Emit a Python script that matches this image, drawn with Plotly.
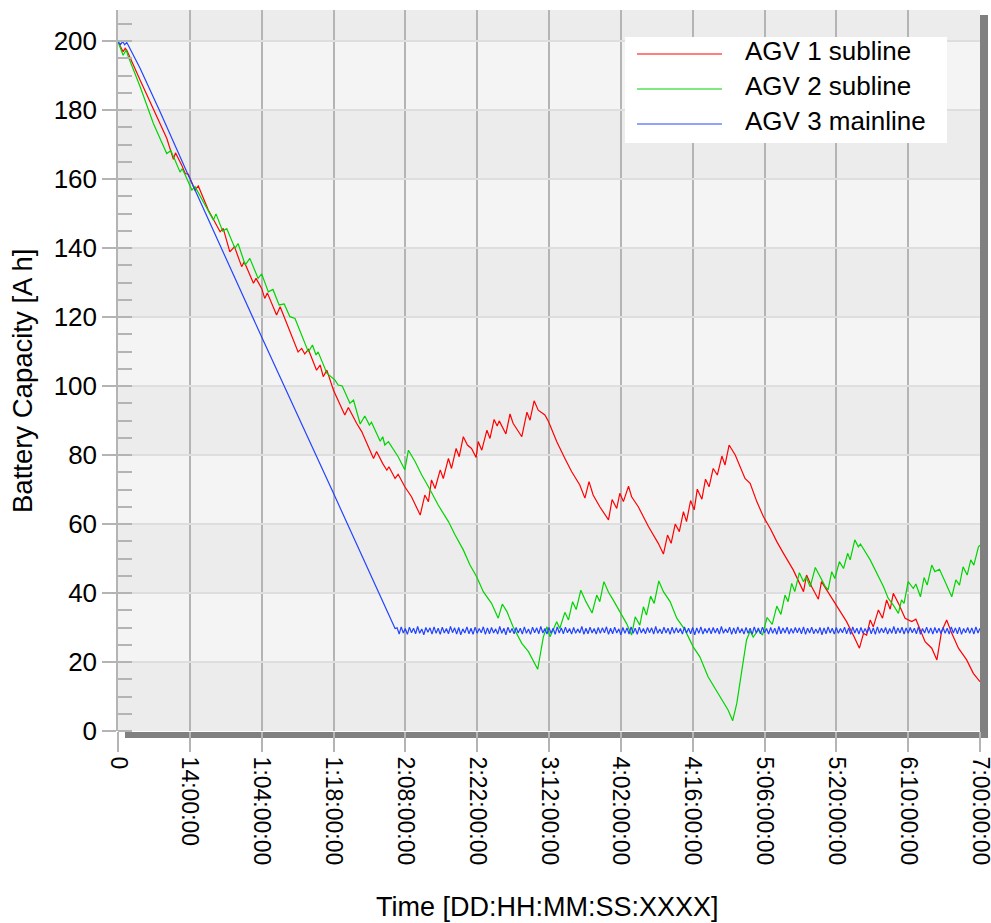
import plotly.graph_objects as go

# ---------------- data (hours since start, battery capacity in A h) ----------------
series_names = ["AGV 1 subline", "AGV 2 subline", "AGV 3 mainline"]
series_colors = ["#ff0000", "#00d400", "#2244ff"]

x_tick_hours = [0, 14, 28, 42, 56, 70, 84, 98, 112, 126, 140, 154, 168]
x_tick_labels = ["0", "14:00:00", "1:04:00:00", "1:18:00:00", "2:08:00:00", "2:22:00:00",
                 "3:12:00:00", "4:02:00:00", "4:16:00:00", "5:06:00:00", "5:20:00:00",
                 "6:10:00:00", "7:00:00:00"]
y_tick_values = [0, 20, 40, 60, 80, 100, 120, 140, 160, 180, 200]

agv1_t = [0.0, 0.5, 1.0, 1.4, 1.7, 4.3, 6.9, 9.5, 10.8, 11.2, 12.4, 13.1, 13.7, 15.0, 15.65,
          17.6, 19.9, 20.5, 21.8, 22.7, 24.1, 24.6, 26.4, 26.9, 28.0, 28.6, 29.1, 30.9, 31.6,
          33.2, 35.1, 35.8, 36.4, 37.1, 38.7, 39.4, 40.0, 40.7, 42.0, 44.2, 44.9, 46.5, 47.5,
          49.8, 50.4, 51.6, 52.4, 52.8, 54.0, 54.6, 55.9, 57.2, 58.9, 59.8, 60.5, 61.1, 61.8,
          62.8, 63.4, 64.4, 65.0, 65.9, 66.5, 67.3, 68.1, 68.9, 69.8, 70.2, 70.9, 71.9, 72.5,
          73.3, 73.9, 74.3, 75.6, 76.4, 77.0, 78.7, 79.7, 80.3, 81.1, 81.9, 83.2, 83.9, 85.5,
          87.1, 88.4, 90.0, 91.0, 91.8, 92.6, 93.9, 95.6, 96.3, 97.2, 97.8, 98.5, 99.5, 100.1,
          101.4, 103.4, 105.3, 106.3, 107.1, 107.8, 108.6, 109.4, 110.2, 110.8, 111.6, 112.3,
          112.9, 113.8, 114.5, 115.2, 116.0, 116.8, 117.7, 118.3, 119.1, 120.3, 122.2, 123.2,
          124.5, 125.8, 127.2, 128.4, 129.7, 131.0, 131.6, 133.6, 134.2, 135.2, 136.5, 137.1,
          138.1, 140.4, 142.0, 143.6, 144.5, 145.3, 145.9, 146.6, 147.2, 148.2, 149.0, 149.8,
          150.5, 151.1, 152.1, 153.4, 154.7, 155.5, 156.3, 157.3, 158.6, 159.6, 160.5, 161.5,
          162.5, 163.8, 165.4, 166.7, 168.0]
agv1_v = [199.8, 198.4, 196.9, 197.9, 197.4, 188.7, 180.0, 171.8, 165.7, 167.6, 164.1, 161.6, 161.4, 156.8, 158.0,
          151.0, 144.7, 145.7, 138.9, 140.4, 134.6, 136.0, 129.8, 131.2, 128.3, 125.4, 127.0, 120.6, 123.0,
          117.2, 109.9, 110.9, 109.3, 110.6, 104.6, 106.1, 102.7, 104.6, 98.8, 91.6, 93.8, 89.2, 86.8,
          79.0, 81.0, 77.5, 75.6, 76.6, 73.2, 74.4, 70.8, 67.9, 62.6, 68.4, 66.5, 72.8, 70.3,
          75.7, 73.2, 79.0, 76.1, 81.9, 79.5, 85.3, 82.9, 81.9, 79.3, 83.9, 81.4, 87.2, 84.8,
          90.3, 88.4, 89.9, 86.1, 91.9, 89.2, 85.3, 92.4, 90.1, 95.7, 93.0, 91.6, 89.7, 83.9,
          79.0, 75.2, 71.3, 67.5, 72.3, 68.4, 65.0, 61.2, 67.1, 64.5, 68.9, 66.5, 71.0, 67.9,
          65.0, 59.2, 54.4, 51.3, 56.8, 54.4, 60.0, 57.8, 63.6, 60.7, 66.8, 64.1,
          70.1, 67.2, 73.0, 70.8, 76.1, 74.2, 79.7, 77.1, 82.9, 80.0, 73.2, 71.8,
          66.5, 62.1, 58.5, 54.9, 51.5, 48.1, 46.7, 40.4, 45.2, 41.8, 38.2, 43.3,
          40.9, 35.6, 31.7, 26.9, 24.0, 28.3, 27.8, 32.2, 30.2, 35.1, 32.7, 38.0,
          35.3, 39.9, 37.0, 32.7, 31.7, 32.4, 29.3, 25.9, 24.0, 20.6, 28.8, 32.2,
          28.3, 24.0, 20.6, 16.7, 14.3]

agv2_t = [0.0, 1.0, 1.6, 2.0, 4.3, 6.9, 9.5, 10.3, 11.1, 12.1, 12.5, 13.1, 14.4, 15.0, 17.0,
          18.6, 19.1, 20.4, 21.2, 22.8, 23.4, 24.8, 25.7, 27.3, 28.0, 29.3, 30.2, 31.4, 32.4,
          33.5, 34.5, 35.8, 37.1, 37.9, 38.6, 39.0, 40.7, 42.3, 42.9, 43.7, 45.2, 45.9, 47.2,
          48.1, 49.0, 49.4, 51.1, 51.6, 52.0, 52.7, 53.7, 54.6, 55.9, 56.6, 57.9, 59.2, 60.8,
          62.4, 64.4, 65.7, 67.3, 68.6, 69.9, 71.2, 72.8, 74.1, 74.9, 75.8, 77.0, 78.7, 80.0,
          80.9, 81.8, 82.9, 83.6, 84.2, 85.5, 86.1, 87.1, 87.8, 88.6, 89.3, 90.2, 91.2, 92.4,
          93.3, 93.9, 94.7, 95.6, 96.5, 97.8, 99.1, 100.1, 100.8, 101.7, 102.4, 103.0, 103.8,
          104.5, 105.4, 106.3, 107.6, 108.9, 110.5, 112.1, 113.4, 115.0, 116.7, 118.0, 118.9,
          119.8, 120.6, 121.6, 122.5, 123.2, 123.8, 124.8, 125.6, 126.5, 127.5, 128.4, 129.2,
          130.0, 130.6, 131.3, 131.9, 132.8, 133.6, 134.1, 134.9, 135.9, 136.8, 137.8, 138.4,
          139.1, 139.7, 140.6, 141.4, 142.2, 142.7, 143.6, 144.3, 144.7, 146.6, 147.9, 149.2,
          150.1, 151.1, 152.1, 152.7, 153.2, 154.0, 155.0, 155.5, 156.4, 157.1, 157.7, 158.6,
          159.2, 160.1, 161.2, 162.5, 163.3, 164.0, 164.7, 165.5, 166.2, 166.8, 167.7, 168.0]
agv2_v = [199.8, 195.9, 197.4, 195.5, 186.8, 176.1, 167.4, 168.2, 165.5, 162.0, 163.0, 161.2, 156.8, 157.8, 152.4,
          148.1, 149.9, 144.9, 145.6, 139.9, 141.3, 135.1, 137.0, 131.2, 132.5, 127.3, 128.0, 123.5, 123.8,
          120.1, 119.6, 114.8, 109.9, 111.9, 109.0, 109.9, 103.7, 101.7, 100.3, 100.0, 95.0, 95.9, 89.0,
          91.3, 88.7, 89.5, 84.0, 85.3, 82.9, 83.9, 81.4, 79.5, 75.7, 81.4, 78.1, 74.2, 70.0,
          65.5, 60.7, 56.8, 52.5, 48.1, 44.7, 40.4, 37.0, 32.7, 36.8, 34.6, 30.2, 25.4, 23.0,
          20.6, 17.9, 27.3, 30.2, 27.3, 31.7, 29.7, 34.4, 32.2, 37.5, 35.2, 40.8, 37.5, 34.2,
          39.4, 37.5, 43.3, 40.2, 38.0, 34.6, 31.2, 27.8, 33.1, 30.7, 36.0, 33.6, 39.1,
          37.0, 43.5, 40.4, 37.5, 32.7, 29.3, 24.4, 21.5, 15.7, 11.4, 8.0, 6.1,
          3.0, 8.0, 17.7, 26.4, 29.0, 27.2, 29.3, 27.8, 32.9, 30.9, 36.2, 33.8,
          39.4, 37.5, 42.8, 40.4, 45.9, 43.3, 44.7, 41.8, 47.4, 44.7, 42.0, 40.9,
          46.2, 44.2, 49.1, 47.1, 51.5, 49.6, 55.4, 53.4, 54.2, 49.6, 45.7, 41.8,
          38.5, 36.5, 34.1, 38.0, 37.0, 43.3, 41.3, 42.6, 38.9, 44.5, 42.3, 48.1,
          46.2, 46.9, 43.3, 38.9, 43.8, 42.3, 47.6, 45.2, 49.6, 48.1, 53.4, 53.9]

# AGV 3: ramp down, then a plateau sampled every 0.4 h starting at 54.4 h
agv3_ramp_t = [0.0, 0.5, 0.9, 1.3, 1.7, 2.0, 4.3, 8.2, 13.4, 28.0, 42.0, 51.1, 54.0]
agv3_ramp_v = [199.8, 199.0, 199.9, 198.9, 199.6, 198.8, 192.1, 179.5, 162.1, 114.2, 68.9, 39.4, 29.7]
agv3_plateau_start = 54.4
agv3_plateau_step = 0.4
agv3_plateau_v = [
    29.9, 28.1, 30.2, 28.4, 29.7, 28.0, 30.1, 28.5, 29.8, 28.2, 30.3, 28.3, 29.6, 27.9, 30.0, 28.6, 29.9, 28.1, 30.2,
    28.3, 29.8, 28.0, 30.1, 28.4, 29.7, 28.2, 30.3, 28.5, 29.9, 28.1, 30.0, 27.9, 29.6, 28.4, 30.2, 28.2, 29.8, 28.0,
    30.1, 28.3, 29.7, 28.5, 30.2, 28.0, 29.9, 28.2, 30.0, 28.4, 29.6, 28.1, 30.3, 28.3, 29.8, 27.9, 30.1, 28.5, 29.7,
    28.2, 30.0, 28.4, 29.8, 28.1, 30.2, 28.3, 29.6, 28.0, 30.1, 28.5, 29.9, 28.2, 30.3, 28.4, 29.7, 28.1, 30.0, 28.3,
    29.8, 28.0, 30.2, 28.4, 29.9, 28.2, 30.1, 28.5, 29.7, 28.1, 30.0, 28.3, 29.6, 28.4, 30.3, 28.0, 29.8, 28.2, 30.1,
    28.4, 29.7, 28.1, 30.0, 28.3, 29.9, 28.5, 30.2, 28.0, 29.8, 28.2, 30.1, 28.4, 29.6, 27.9, 30.0, 28.3, 29.9, 28.1,
    30.2, 28.3, 29.8, 28.0, 30.1, 28.4, 29.7, 28.2, 30.0, 28.5, 29.9, 28.1, 30.3, 28.3, 29.6, 28.2, 30.1, 28.4, 29.8,
    28.0, 30.1, 28.3, 29.9, 28.5, 29.7, 28.1, 30.2, 28.4, 29.8, 28.2, 30.0, 27.9, 29.9, 28.3, 30.2, 28.1, 29.7, 28.4,
    29.9, 28.2, 30.0, 28.4, 29.8, 28.1, 30.3, 28.3, 29.6, 28.5, 30.1, 28.0, 29.9, 28.2, 30.2, 28.4, 29.7, 28.1, 30.0,
    28.3, 29.8, 28.0, 30.2, 28.4, 29.9, 28.2, 30.1, 28.5, 29.7, 28.1, 30.0, 28.3, 29.8, 28.0, 30.3, 28.2, 29.9, 28.4,
    30.1, 28.1, 29.7, 28.3, 30.0, 28.5, 29.9, 28.2, 30.2, 28.0, 29.8, 28.4, 30.1, 28.2, 29.6, 28.3, 30.0, 27.9, 29.9,
    28.2, 30.2, 28.4, 29.8, 28.1, 30.0, 28.3, 29.7, 28.5, 30.1, 28.2, 29.9, 28.0, 30.2, 28.4, 29.8, 28.1, 30.0, 28.3,
    29.7, 28.4, 30.1, 28.2, 29.9, 28.0, 30.2, 28.3, 29.8, 28.5, 30.0, 28.1, 29.7, 28.3, 30.3, 28.2, 29.9, 28.4, 30.1,
    28.1, 29.9, 28.3, 30.0, 28.5, 29.8, 28.2, 30.2, 28.0, 29.7, 28.4, 30.1, 28.3, 29.9, 28.1, 30.0, 28.4, 29.8, 28.2,
    30.0, 28.3, 29.8, 28.1, 30.2, 28.4, 29.9, 28.2, 30.1, 28.0, 29.7, 28.5, 30.0, 28.3, 29.9, 28.1, 30.2, 28.4, 29.8,
]
agv3_plateau_t = [agv3_plateau_start + i * agv3_plateau_step for i in range(len(agv3_plateau_v))]
agv3_t = agv3_ramp_t + agv3_plateau_t
agv3_v = agv3_ramp_v + agv3_plateau_v

# ---------------- figure ----------------
FONT = "Liberation Sans, Arial, sans-serif"
GRID = "#b4b4b4"

fig = go.Figure()
for t, v, name, col in zip([agv1_t, agv2_t, agv3_t], [agv1_v, agv2_v, agv3_v], series_names, series_colors):
    fig.add_trace(go.Scatter(x=t, y=v, mode="lines", name=name,
                             line=dict(color=col, width=1.2), showlegend=False,
                             hoverinfo="skip"))

shapes = []
# alternating horizontal bands
for lo in [20, 60, 100, 140, 180]:
    shapes.append(dict(type="rect", xref="paper", yref="y", x0=0, x1=1, y0=lo, y1=lo + 20,
                       fillcolor="#f4f4f4", line=dict(width=0), layer="below"))
# drop shadow right and bottom
shapes.append(dict(type="rect", xref="paper", yref="paper", x0=1.0, x1=1.0093, y0=-0.0097, y1=0.993,
                   fillcolor="#808080", line=dict(width=0), layer="below"))
shapes.append(dict(type="rect", xref="paper", yref="paper", x0=0.0081, x1=1.0093, y0=-0.0097, y1=-0.0014,
                   fillcolor="#808080", line=dict(width=0), layer="below"))
# legend box
shapes.append(dict(type="rect", xref="paper", yref="paper", x0=0.5882, x1=0.9617, y0=0.8155, y1=0.9626,
                   fillcolor="white", line=dict(width=0), layer="above"))
legend_y = [0.9390, 0.8904, 0.8419]
annotations = []
for name, col, ly in zip(series_names, series_colors, legend_y):
    shapes.append(dict(type="line", xref="paper", yref="paper", x0=0.6021, x1=0.7007, y0=ly, y1=ly,
                       line=dict(color=col, width=1.2), layer="above"))
    annotations.append(dict(xref="paper", yref="paper", x=0.7251, y=ly + 0.004, text=name,
                            showarrow=False, xanchor="left", yanchor="middle",
                            font=dict(family=FONT, size=26, color="black")))

# axis titles
annotations.append(dict(xref="paper", yref="paper", x=0.4988, y=-0.2441, text="Time [DD:HH:MM:SS:XXXX]",
                        showarrow=False, xanchor="center", yanchor="middle",
                        font=dict(family=FONT, size=27, color="black")))
annotations.append(dict(xref="paper", yref="paper", x=-0.1114, y=0.4854, text="Battery Capacity [A h]",
                        showarrow=False, xanchor="center", yanchor="middle", textangle=-90,
                        font=dict(family=FONT, size=27.5, color="black")))

fig.update_layout(
    width=991, height=923, autosize=False,
    margin=dict(l=118, r=11, t=10, b=192, pad=0),
    paper_bgcolor="white", plot_bgcolor="#ececec",
    font=dict(family=FONT, color="black"),
    shapes=shapes, annotations=annotations,
    showlegend=False,
    xaxis=dict(range=[0, 168], tickmode="array", tickvals=x_tick_hours, ticktext=x_tick_labels,
               tickangle=90, ticks="outside", ticklen=20, tickwidth=1.5, tickcolor=GRID,
               showgrid=True, gridcolor=GRID, gridwidth=1.5, zeroline=False, showline=False,
               ticklabeloverflow="allow", automargin=False,
               tickfont=dict(family=FONT, size=23, color="black")),
    yaxis=dict(range=[0, 209], tickmode="array", tickvals=y_tick_values,
               ticks="outside", ticklen=14, tickwidth=1.5, tickcolor=GRID,
               showgrid=True, gridcolor="#dedede", gridwidth=1.5, zeroline=False,
               showline=True, linecolor=GRID, linewidth=1.5, automargin=False,
               minor=dict(tickmode="linear", tick0=0, dtick=5, ticks="inside", ticklen=14,
                          tickwidth=1.5, tickcolor=GRID, showgrid=False),
               tickfont=dict(family=FONT, size=26, color="black")),
)

fig.write_html("out.html")
